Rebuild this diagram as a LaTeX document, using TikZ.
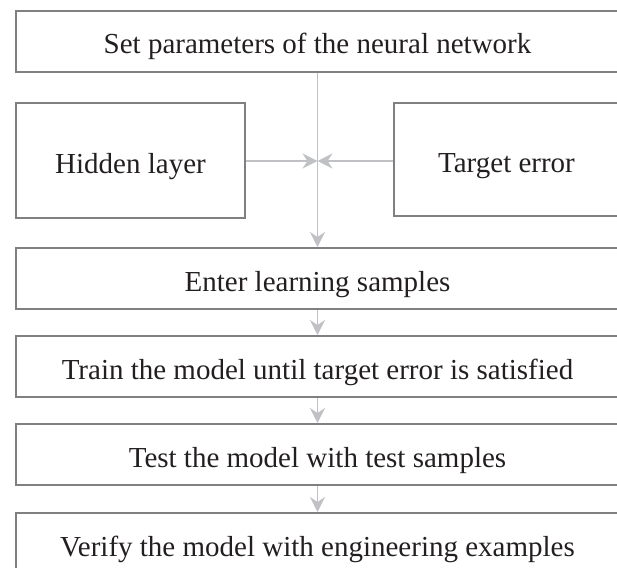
\documentclass[tikz,border=0pt]{standalone}
\usepackage{fontspec}
\setmainfont{Liberation Serif}
\usetikzlibrary{arrows.meta}

\definecolor{boxgray}{RGB}{128,128,130}
\definecolor{linegray}{RGB}{192,193,197}
\definecolor{textblack}{RGB}{35,31,32}

\tikzset{
  box/.style={draw=boxgray, line width=2pt, rectangle, text=textblack,
    font=\fontsize{29}{34}\selectfont, inner sep=0pt,
    text height=27pt, text depth=2pt},
  wide/.style={box, minimum width=614pt, minimum height=61pt},
  flow/.style={draw=linegray, line width=1.8pt,
    -{Stealth[length=15pt, width=15pt, inset=5pt]}}
}

\begin{document}
\begin{tikzpicture}[x=1pt, y=-1pt]
          \useasboundingbox (0,0) rectangle (617,567);

          % Nodes for the steps (full width boxes, cut at the right edge)
          \node[wide] (Par) at (323, 41.5) {\hspace{-11pt}Set parameters of the neural network};
          \node[wide] (Enter) at (323, 278.5) {\hspace{-11pt}Enter learning samples};
          \node[wide] (Train) at (323, 366.5) {\hspace{-11pt}Train the model until target error is satisfied};
          \node[wide] (Test) at (323, 454.5) {\hspace{-11pt}Test the model with test samples};
          \node[wide] (Verify) at (323, 543.5) {\hspace{-11pt}Verify the model with engineering examples};

          % Nodes for the inputs (side boxes)
          \node[box, minimum width=229pt, minimum height=115pt] (Hid) at (130.5, 160.5) {Hidden layer};
          \node[box, minimum width=232pt, minimum height=113pt] (Err) at (510, 159.5) {\hspace{-7pt}Target error};

          % Meeting point of the inputs
          \coordinate (J) at (317.5, 161);

          % Directed edges
          \draw [flow, -] (Par.south -| J) -- (J);
          \draw [flow] (J) -- (Enter.north -| J);
          \draw [flow] (Hid.east |- J) -- (J);
          \draw [flow] (Err.west |- J) -- (J);
          \draw [flow] (Enter.south -| J) -- (Train.north -| J);
          \draw [flow] (Train.south -| J) -- (Test.north -| J);
          \draw [flow] (Test.south -| J) -- (Verify.north -| J);
        \end{tikzpicture}
\end{document}
